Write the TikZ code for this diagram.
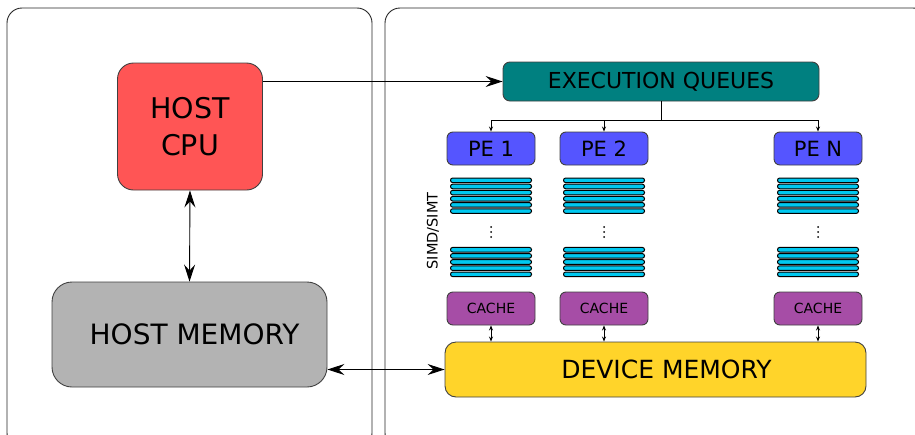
\documentclass[tikz,border=0pt]{standalone}
\usepackage{fontspec}
\setmainfont{DejaVu Sans}
\usetikzlibrary{arrows.meta}

\definecolor{cpured}{HTML}{FF5555}
\definecolor{memgray}{HTML}{B3B3B3}
\definecolor{queueteal}{HTML}{008080}
\definecolor{peblue}{HTML}{5555FF}
\definecolor{lanecyan}{HTML}{00C8F0}
\definecolor{cachepurple}{HTML}{A64DA6}
\definecolor{devyellow}{HTML}{FFD42A}

\tikzset{
  box/.style={draw=black!75, inner sep=0pt, align=center},
  pebox/.style={box, fill=peblue, rounded corners=6pt, minimum width=88pt, minimum height=33pt, font=\fontsize{21}{24}\selectfont},
  cachebox/.style={box, fill=cachepurple, rounded corners=6pt, minimum width=88pt, minimum height=33pt, font=\fontsize{14}{16}\selectfont},
  lane/.style={draw=black, fill=lanecyan, line width=1pt, rounded corners=2.2pt},
  bigtip/.style={>={Stealth[length=17pt,width=11pt,inset=6pt]}},
  smalltip/.style={>={Stealth[length=5pt,width=4pt]}},
}

\begin{document}
\begin{tikzpicture}[x=1pt,y=-1pt,line width=0.9pt]
\useasboundingbox (0,0) rectangle (915,434);
\clip (0,0) rectangle (915,434);

% host and device panels
\draw[black!85, rounded corners=15pt] (7,8) rectangle (372,448);
\draw[black!85, rounded corners=15pt] (385,8) rectangle (928,448);

% host side
\node[box, fill=cpured, rounded corners=16pt, minimum width=145pt, minimum height=127pt,
      font=\fontsize{28.5}{37}\selectfont] (cpu) at (190,126.5) {HOST\\CPU};
\node[box, fill=memgray, rounded corners=20pt, minimum width=275pt, minimum height=105pt,
      font=\fontsize{28}{34}\selectfont] (hostmem) at (189.5,334.5) {\hspace*{10pt}HOST MEMORY};

% device side
\node[box, fill=queueteal, rounded corners=7pt, minimum width=316pt, minimum height=39pt,
      font=\fontsize{22}{26}\selectfont] (eq) at (661,81.5) {EXECUTION QUEUES};
\node[pebox] (pe1) at (491,148.5) {PE 1};
\node[pebox] (pe2) at (604,148.5) {PE 2};
\node[pebox] (pen) at (818,148.5) {PE N};
\node[cachebox] (cache1) at (491,308.5) {CACHE};
\node[cachebox] (cache2) at (604,308.5) {CACHE};
\node[cachebox] (cachen) at (818,308.5) {CACHE};
\node[box, fill=devyellow, rounded corners=11pt, minimum width=421pt, minimum height=55pt,
      font=\fontsize{25}{29}\selectfont] (devmem) at (655.5,369.5) {\hspace*{22pt}DEVICE MEMORY};

\node[rotate=90, font=\fontsize{14.5}{17}\selectfont] (simd) at (433,231) {SIMD/SIMT};

% SIMD lanes
\foreach \cx in {491,604,818} {
  \foreach \k in {0,...,5}
    \draw[lane] (\cx-40.5,178+6.15*\k) rectangle (\cx+40.5,182.6+6.15*\k);
  \foreach \k in {0,...,4}
    \draw[lane] (\cx-40.5,247.4+6.15*\k) rectangle (\cx+40.5,252+6.15*\k);
  \foreach \k in {0,1,2}
    \fill (\cx,227+5*\k) circle (1pt);
}

% connectors
\coordinate (split) at (eq.south |- 0,120);
\draw[bigtip,->] (cpu.east |- eq.west) -- (eq.west);
\draw[bigtip,<->] (cpu.south) -- (hostmem.north);
\draw[bigtip,<->] (hostmem.east |- devmem.west) -- (devmem.west);

\draw (eq.south) -- (split);
\draw[smalltip,->] (split) -| (pe1.north);
\draw[smalltip,->] (split) -| (pe2.north);
\draw[smalltip,->] (split) -| (pen.north);

\draw[smalltip,<->] (cache1.south) -- (cache1.south |- devmem.north);
\draw[smalltip,<->] (cache2.south) -- (cache2.south |- devmem.north);
\draw[smalltip,<->] (cachen.south) -- (cachen.south |- devmem.north);

\end{tikzpicture}
\end{document}
